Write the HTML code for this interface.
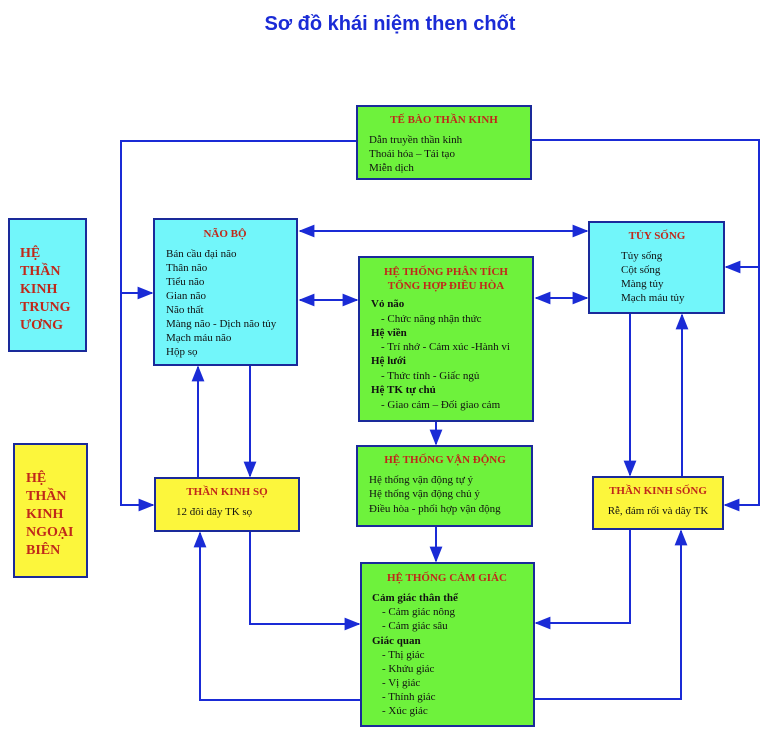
<!DOCTYPE html>
<html><head><meta charset="utf-8"><style>
body{margin:0;background:#fff;width:767px;height:736px;overflow:hidden}
svg{display:block}
text{font-family:"Liberation Serif",serif;font-size:11px;fill:#111}
.h{font-weight:bold;fill:#c0281a;font-size:11px}
.b{font-weight:bold}
.big{font-weight:bold;fill:#c0281a;font-size:14px}
</style></head><body>
<svg width="767" height="736" viewBox="0 0 767 736">
<defs><marker id="a" viewBox="0 0 10 10" refX="9" refY="5" markerWidth="8" markerHeight="8" orient="auto-start-reverse"><path d="M0,1 L10,5 L0,9 z" fill="#1a2bd6"/></marker></defs>
<text x="390" y="30" text-anchor="middle" style="font-family:'Liberation Sans',sans-serif;font-size:20px;font-weight:bold;fill:#1a2bd6">Sơ đồ khái niệm then chốt</text>
<g stroke="#1a2bd6" stroke-width="2" fill="none">
<polyline points="357,141 121,141 121,505 153,505" marker-end="url(#a)"/>
<line x1="121" y1="293" x2="152" y2="293" marker-end="url(#a)"/>
<polyline points="531,140 759,140 759,505 725,505" marker-end="url(#a)"/>
<line x1="759" y1="267" x2="726" y2="267" marker-end="url(#a)"/>
<line x1="300" y1="231" x2="587" y2="231" marker-start="url(#a)" marker-end="url(#a)"/>
<line x1="300" y1="300" x2="357" y2="300" marker-start="url(#a)" marker-end="url(#a)"/>
<line x1="536" y1="298" x2="587" y2="298" marker-start="url(#a)" marker-end="url(#a)"/>
<line x1="436" y1="421" x2="436" y2="444" marker-end="url(#a)"/>
<line x1="436" y1="526" x2="436" y2="561" marker-end="url(#a)"/>
<line x1="198" y1="478" x2="198" y2="367" marker-end="url(#a)"/>
<line x1="250" y1="365" x2="250" y2="476" marker-end="url(#a)"/>
<line x1="630" y1="313" x2="630" y2="475" marker-end="url(#a)"/>
<line x1="682" y1="477" x2="682" y2="315" marker-end="url(#a)"/>
<polyline points="250,531 250,624 359,624" marker-end="url(#a)"/>
<polyline points="361,700 200,700 200,533" marker-end="url(#a)"/>
<polyline points="630,529 630,623 536,623" marker-end="url(#a)"/>
<polyline points="534,699 681,699 681,531" marker-end="url(#a)"/>
</g>
<g stroke="#1a2a9a" stroke-width="2">
<rect x="357" y="106" width="174" height="73" fill="#6ef23c"/>
<rect x="154" y="219" width="143" height="146" fill="#72f6fa"/>
<rect x="359" y="257" width="174" height="164" fill="#6ef23c"/>
<rect x="589" y="222" width="135" height="91" fill="#72f6fa"/>
<rect x="9" y="219" width="77" height="132" fill="#72f6fa"/>
<rect x="14" y="444" width="73" height="133" fill="#fcf63c"/>
<rect x="357" y="446" width="175" height="80" fill="#6ef23c"/>
<rect x="155" y="478" width="144" height="53" fill="#fcf63c"/>
<rect x="593" y="477" width="130" height="52" fill="#fcf63c"/>
<rect x="361" y="563" width="173" height="163" fill="#6ef23c"/>
</g>
<text class="h" x="444" y="123" text-anchor="middle">TẾ BÀO THẦN KINH</text>
<text x="369" y="143">Dẫn truyền thần kinh</text>
<text x="369" y="157">Thoái hóa – Tái tạo</text>
<text x="369" y="171">Miễn dịch</text>
<text class="h" x="225" y="237" text-anchor="middle">NÃO BỘ</text>
<text x="166" y="257">Bán cầu đại não</text>
<text x="166" y="271">Thân não</text>
<text x="166" y="285">Tiểu não</text>
<text x="166" y="299">Gian não</text>
<text x="166" y="313">Não thất</text>
<text x="166" y="327">Màng não - Dịch não tủy</text>
<text x="166" y="341">Mạch máu não</text>
<text x="166" y="355">Hộp sọ</text>
<text class="h" x="446" y="275" text-anchor="middle">HỆ THỐNG PHÂN TÍCH</text>
<text class="h" x="446" y="289" text-anchor="middle">TỔNG HỢP ĐIỀU HÒA</text>
<text class="b" x="371" y="307">Vỏ não</text>
<text x="381" y="322">- Chức năng nhận thức</text>
<text class="b" x="371" y="336">Hệ viền</text>
<text x="381" y="350">- Trí nhớ - Cảm xúc -Hành vi</text>
<text class="b" x="371" y="364">Hệ lưới</text>
<text x="381" y="379">- Thức tỉnh - Giấc ngủ</text>
<text class="b" x="371" y="393">Hệ TK tự chủ</text>
<text x="381" y="408">- Giao cảm – Đối giao cảm</text>
<text class="h" x="657" y="239" text-anchor="middle">TỦY SỐNG</text>
<text x="621" y="259">Tủy sống</text>
<text x="621" y="273">Cột sống</text>
<text x="621" y="287">Màng tủy</text>
<text x="621" y="301">Mạch máu tủy</text>
<text class="big" x="20" y="257">HỆ</text>
<text class="big" x="20" y="275">THẦN</text>
<text class="big" x="20" y="293">KINH</text>
<text class="big" x="20" y="311">TRUNG</text>
<text class="big" x="20" y="329">ƯƠNG</text>
<text class="big" x="26" y="482">HỆ</text>
<text class="big" x="26" y="500">THẦN</text>
<text class="big" x="26" y="518">KINH</text>
<text class="big" x="26" y="536">NGOẠI</text>
<text class="big" x="26" y="554">BIÊN</text>
<text class="h" x="445" y="463" text-anchor="middle">HỆ THỐNG VẬN ĐỘNG</text>
<text x="369" y="483">Hệ thống vận động tự ý</text>
<text x="369" y="497">Hệ thống vận động chủ ý</text>
<text x="369" y="512">Điều hòa - phối hợp vận động</text>
<text class="h" x="227" y="495" text-anchor="middle">THẦN KINH SỌ</text>
<text x="176" y="515">12 đôi dây TK sọ</text>
<text class="h" x="658" y="494" text-anchor="middle">THẦN KINH SỐNG</text>
<text x="658" y="514" text-anchor="middle">Rễ, đám rối và dây TK</text>
<text class="h" x="447" y="581" text-anchor="middle">HỆ THỐNG CẢM GIÁC</text>
<text class="b" x="372" y="601">Cảm giác thân thể</text>
<text x="382" y="615">- Cảm giác nông</text>
<text x="382" y="629">- Cảm giác sâu</text>
<text class="b" x="372" y="644">Giác quan</text>
<text x="382" y="658">- Thị giác</text>
<text x="382" y="672">- Khứu giác</text>
<text x="382" y="686">- Vị giác</text>
<text x="382" y="700">- Thính giác</text>
<text x="382" y="714">- Xúc giác</text>
</svg>
</body></html>
